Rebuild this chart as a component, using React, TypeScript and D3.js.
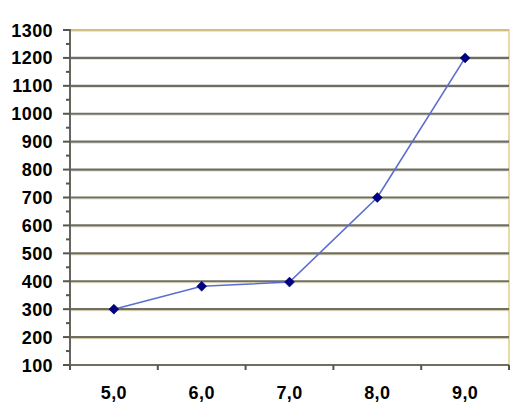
import React from "react";
import * as d3 from "d3";

const categories = ["5,0", "6,0", "7,0", "8,0", "9,0"];
const values = [300, 382, 397, 700, 1200];
const yTicks = [100, 200, 300, 400, 500, 600, 700, 800, 900, 1000, 1100, 1200, 1300];
const yMinor = [150, 250, 350, 450, 550, 650, 750, 850, 950, 1050, 1150, 1250];

const W = 520, H = 407;
const left = 70, right = 509, top = 30, bottom = 365;

export default function App() {
  const x = d3.scaleBand<string>().domain(categories).range([left, right]);
  const y = d3.scaleLinear().domain([100, 1300]).range([bottom, top]);
  const pts: [number, number][] = categories.map((c, i) => [x(c)! + x.bandwidth() / 2, y(values[i])]);
  const line = d3.line().x(d => d[0]).y(d => d[1])(pts) as string;
  const font = "Arial, 'Liberation Sans', sans-serif";
  const bounds = [left, ...categories.map(c => x(c)! + x.bandwidth())];
  return (
    <svg width={W} height={H} style={{ position: "absolute", left: 0, top: 0, background: "#fff" }}>
      <rect x={left} y={top} width={right - left} height={bottom - top} fill="#fff" stroke="#e0cc88" strokeWidth={1.5} />
      {yTicks.filter(t => t !== 100).map(t => (
        <g key={t}>
          <line x1={left} x2={right} y1={y(t) + 1.6} y2={y(t) + 1.6} stroke="#f3e6b0" strokeWidth={1} />
          <line x1={left} x2={right} y1={y(t)} y2={y(t)} stroke={t === 1300 ? "#c8b67a" : "#6e6e64"} strokeWidth={t === 1300 ? 1.5 : 2.2} />
        </g>
      ))}
      <line x1={left} x2={left} y1={top - 1} y2={bottom + 5} stroke="#66665e" strokeWidth={2} />
      <line x1={left - 7} x2={right} y1={bottom} y2={bottom} stroke="#6e6e64" strokeWidth={2.2} />
      {yTicks.map(t => (
        <line key={"mt" + t} x1={left - 7} x2={left} y1={y(t)} y2={y(t)} stroke="#55554f" strokeWidth={2} />
      ))}
      {yMinor.map(t => (
        <line key={"mn" + t} x1={left - 4} x2={left} y1={y(t)} y2={y(t)} stroke="#55554f" strokeWidth={2} />
      ))}
      {bounds.map((b, i) => (
        <line key={"xt" + i} x1={b} x2={b} y1={bottom} y2={bottom + 5} stroke="#55554f" strokeWidth={2} />
      ))}
      {yTicks.map(t => (
        <text key={"yl" + t} x={53} y={y(t) + 6.5} textAnchor="end" fontFamily={font} fontWeight="bold" fontSize={18} letterSpacing={0.4} fill="#000">{t}</text>
      ))}
      {categories.map(c => (
        <text key={"xl" + c} x={x(c)! + x.bandwidth() / 2} y={399} textAnchor="middle" fontFamily={font} fontWeight="bold" fontSize={18} letterSpacing={0.4} fill="#000">{c}</text>
      ))}
      <path d={line} fill="none" stroke="#5b6ed0" strokeWidth={1.6} />
      {pts.map((p, i) => (
        <path key={"m" + i} d={`M${p[0]},${p[1] - 5}L${p[0] + 5},${p[1]}L${p[0]},${p[1] + 5}L${p[0] - 5},${p[1]}Z`} fill="#000080" stroke="#000080" strokeWidth={0.5} />
      ))}
    </svg>
  );
}
